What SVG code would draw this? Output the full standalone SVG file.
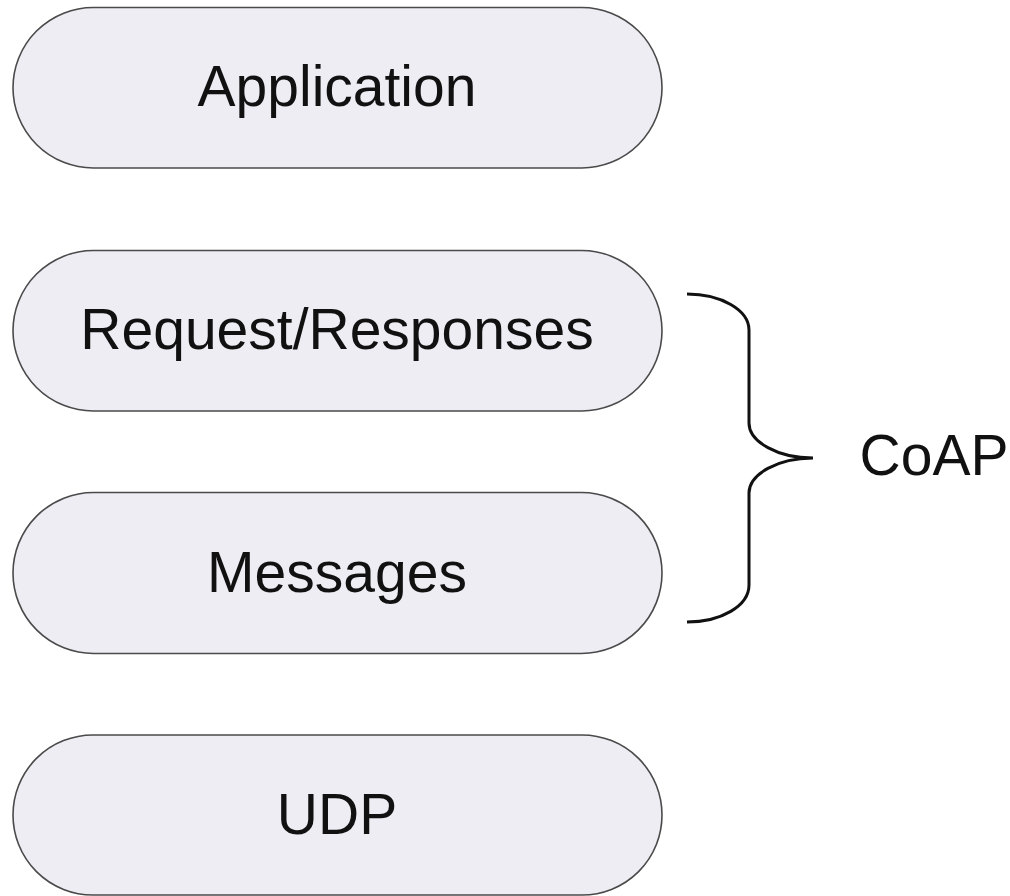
<svg xmlns="http://www.w3.org/2000/svg" width="1010" height="896" viewBox="0 0 1010 896">
<style>
.box{fill:#eeedf4;stroke:#4a4a4a;stroke-width:1.6}
.lbl{font-family:"Liberation Sans",Arial,sans-serif;font-size:57px;fill:#111;text-anchor:middle}
.brace{fill:none;stroke:#111;stroke-width:3}
</style>
<rect width="1010" height="896" fill="#fff"/>
<g id="application"><rect class="box" x="13" y="7.5" width="649" height="160.5" rx="80.25"/><text class="lbl" x="337" y="106">Application</text></g>
<g id="request-responses"><rect class="box" x="13" y="250.5" width="649" height="160.5" rx="80.25"/><text class="lbl" x="337" y="349">Request/Responses</text></g>
<g id="messages"><rect class="box" x="13" y="492.5" width="649" height="161" rx="80.5"/><text class="lbl" x="337" y="592">Messages</text></g>
<g id="udp"><rect class="box" x="13" y="735" width="649" height="160" rx="80"/><text class="lbl" x="337" y="834">UDP</text></g>
<g id="connectors"><path class="brace" d="M687,294 C721,294 749,310 749,330 L749,423 C749,442 778,458 813,458 C778,458 749,474 749,493 L749,585 C749,606 721,622 687,622"/></g>
<g id="coap"><text class="lbl" x="934" y="475">CoAP</text></g>
</svg>
